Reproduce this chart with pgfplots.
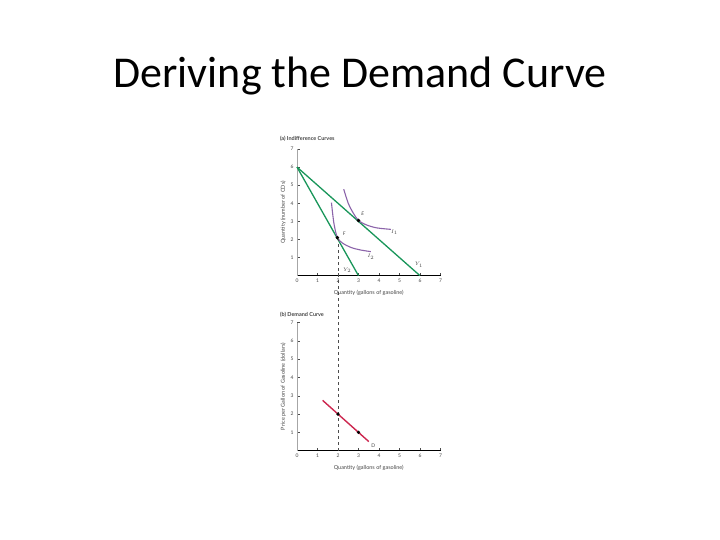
\documentclass[border=0pt]{standalone}
\usepackage{pgfplots}
\pgfplotsset{compat=1.18}
\usepackage{fontspec}
\setmainfont{Carlito}
\newfontfamily\chartfont{Lato}
\definecolor{grn}{RGB}{25,150,90}
\definecolor{purp}{RGB}{140,100,170}
\definecolor{dem}{RGB}{205,40,80}
\definecolor{txt}{RGB}{70,70,70}
\begin{document}
\begin{tikzpicture}[x=1pt,y=1pt]
\path[fill=white] (0,0) rectangle (720,540);
\node[anchor=base,font=\fontsize{44}{48}\selectfont] at (360,452) {Deriving the Demand Curve};
\pgfplotsset{
  econ/.style={
    x=20.5pt, xmin=0, xmax=7, ymin=0, ymax=7,
    axis x line*=bottom, axis y line*=left,
    x axis line style={-, black, line width=0.9pt},
    y axis line style={-, gray!70, line width=0.5pt},
    xtick={1,...,7}, ytick={1,...,7},
    tick align=inside, major tick length=3pt,
    tick style={black!70, line width=0.4pt},
    ticklabel style={font=\chartfont\fontsize{5}{6}\selectfont, text=txt},
    /pgf/number format/assume math mode=true,
    extra x ticks={0}, extra x tick style={major tick length=0pt},
    label style={font=\chartfont\fontsize{5.5}{6.5}\selectfont, text=txt},
    xlabel={Quantity (gallons of gasoline)},
    xlabel style={yshift=0pt},
    ylabel style={yshift=-2pt},
    clip=false,
  }
}
% Top panel
\begin{axis}[econ, y=18.1pt, at={(297pt,264.3pt)}, anchor=origin,
  ylabel={Quantity (number of CDs)}]
\addplot[grn, line width=1.3pt] coordinates {(0,6) (6,0)};
\addplot[grn, line width=1.3pt] coordinates {(0,6) (3,0)};
\addplot[purp, line width=1.1pt, smooth] coordinates {(2.28,4.78) (2.5,4.0) (2.75,3.45) (3.0,3.05) (3.4,2.8) (3.9,2.64) (4.58,2.56)};
\addplot[purp, line width=1.1pt, smooth] coordinates {(1.68,4.04) (1.8,2.9) (1.97,2.1) (2.25,1.78) (2.66,1.55) (3.1,1.42) (3.6,1.33)};
\addplot[only marks, mark=*, mark size=1.6pt, black] coordinates {(3,3.05) (1.97,2.1)};
\node[font=\chartfont\fontsize{5}{6}\selectfont\itshape, text=txt] at (axis cs:3.2,3.4) {E};
\node[font=\chartfont\fontsize{5}{6}\selectfont\itshape, text=txt] at (axis cs:2.3,2.3) {F};
\node[font=\chartfont\fontsize{5}{6}\selectfont, text=txt] at (axis cs:4.75,2.4) {$I_1$};
\node[font=\chartfont\fontsize{5}{6}\selectfont, text=txt] at (axis cs:3.6,1.05) {$I_2$};
\node[font=\chartfont\fontsize{5}{6}\selectfont, text=txt] at (axis cs:2.45,0.3) {$Y_2$};
\node[font=\chartfont\fontsize{5}{6}\selectfont, text=txt] at (axis cs:5.95,0.6) {$Y_1$};
\node[font=\chartfont\fontsize{5.5}{6.5}\selectfont\bfseries, text=txt, anchor=west] at (axis cs:-1,7.55) {(a) Indifference Curves};
\end{axis}
% Bottom panel
\begin{axis}[econ, y=18.3pt, at={(297pt,89.3pt)}, anchor=origin,
  ylabel={Price per Gallon of Gasoline (dollars)}]
\addplot[black!70, dashed, line width=0.5pt] coordinates {(2,0) (2,11.65)};
\addplot[dem, line width=1.4pt] coordinates {(1.25,2.75) (3.5,0.5)};
\addplot[only marks, mark=*, mark size=1.5pt, black] coordinates {(2,2) (3,1)};
\node[font=\chartfont\fontsize{5}{6}\selectfont, text=txt] at (axis cs:3.72,0.28) {D};
\node[font=\chartfont\fontsize{5.5}{6.5}\selectfont\bfseries, text=txt, anchor=west] at (axis cs:-1,7.45) {(b) Demand Curve};
\end{axis}
\end{tikzpicture}
\end{document}
